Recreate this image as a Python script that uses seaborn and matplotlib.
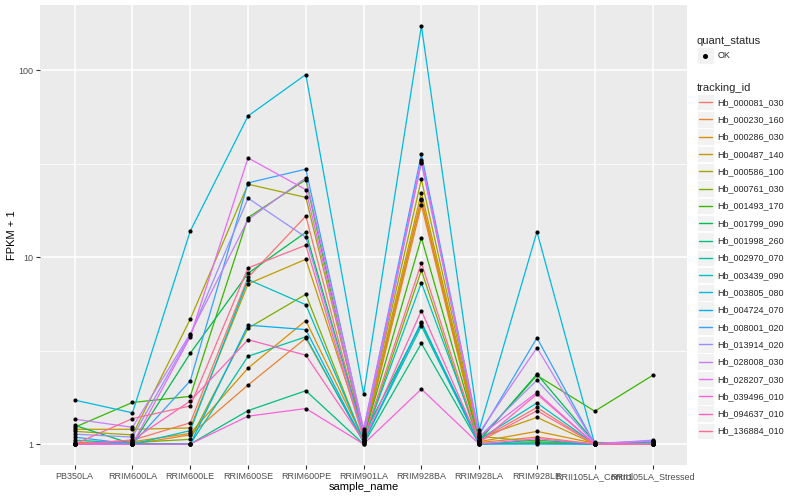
import matplotlib
matplotlib.use("Agg")
import matplotlib.pyplot as plt
import seaborn as sns
import numpy as np
import pandas as pd
from matplotlib.lines import Line2D
from matplotlib.patches import Rectangle
from matplotlib.legend_handler import HandlerBase

samples = ['PB350LA', 'RRIM600LA', 'RRIM600LE', 'RRIM600SE', 'RRIM600PE', 'RRIM901LA',
           'RRIM928BA', 'RRIM928LA', 'RRIM928LE', 'RRII105LA_Control', 'RRII105LA_Stressed']

tracking_ids = ['Hb_000081_030', 'Hb_000230_160', 'Hb_000286_030', 'Hb_000487_140', 'Hb_000586_100',
                'Hb_000761_030', 'Hb_001493_170', 'Hb_001799_090', 'Hb_001998_260', 'Hb_002970_070',
                'Hb_003439_090', 'Hb_003805_080', 'Hb_004724_070', 'Hb_008001_020', 'Hb_013914_020',
                'Hb_028008_030', 'Hb_028207_030', 'Hb_039496_010', 'Hb_094637_010', 'Hb_136884_010']

# FPKM + 1 per tracking id, in sample order
Hb_000081_030 = [1.00, 1.05, 1.30, 7.8, 16.6, 1.10, 20.6, 1.05, 1.57, 1.00, 1.01]
Hb_000230_160 = [1.00, 1.00, 1.12, 2.07, 3.69, 1.04, 19.0, 1.02, 1.09, 1.00, 1.00]
Hb_000286_030 = [1.02, 1.03, 1.14, 2.55, 4.58, 1.06, 20.2, 1.03, 1.17, 1.01, 1.00]
Hb_000487_140 = [1.20, 1.20, 1.22, 7.2, 9.75, 1.12, 22.2, 1.08, 1.39, 1.00, 1.02]
Hb_000586_100 = [1.17, 1.12, 4.66, 24.6, 20.9, 1.15, 26.1, 1.10, 1.03, 1.00, 1.00]
Hb_000761_030 = [1.00, 1.02, 1.06, 4.17, 6.33, 1.03, 8.5, 1.00, 1.02, 1.00, 1.00]
Hb_001493_170 = [1.23, 1.67, 1.80, 16.3, 26.0, 1.08, 12.7, 1.05, 2.33, 1.50, 2.33]
Hb_001799_090 = [1.26, 1.00, 3.06, 8.2, 13.6, 1.12, 4.42, 1.04, 2.37, 1.02, 1.01]
Hb_001998_260 = [1.00, 1.00, 1.00, 1.51, 1.93, 1.00, 3.46, 1.00, 1.05, 1.00, 1.00]
Hb_002970_070 = [1.05, 1.01, 1.00, 2.95, 3.75, 1.02, 4.28, 1.01, 1.01, 1.00, 1.00]
Hb_003439_090 = [1.00, 1.00, 1.18, 7.6, 5.57, 1.05, 7.3, 1.06, 1.66, 1.00, 1.02]
Hb_003805_080 = [1.72, 1.47, 13.8, 57.0, 95.0, 1.85, 173.0, 1.19, 13.7, 1.00, 1.00]
Hb_004724_070 = [1.00, 1.00, 1.00, 4.33, 4.10, 1.02, 4.51, 1.00, 1.00, 1.00, 1.00]
Hb_008001_020 = [1.09, 1.00, 2.18, 25.0, 29.6, 1.18, 35.6, 1.12, 3.70, 1.00, 1.04]
Hb_013914_020 = [1.13, 1.09, 3.82, 20.7, 12.8, 1.10, 32.1, 1.09, 2.20, 1.01, 1.04]
Hb_028008_030 = [1.36, 1.23, 3.89, 15.9, 26.6, 1.21, 32.5, 1.15, 3.28, 1.00, 1.05]
Hb_028207_030 = [1.00, 1.00, 3.75, 34.0, 23.0, 1.14, 33.3, 1.10, 1.89, 1.00, 1.00]
Hb_039496_010 = [1.00, 1.00, 1.00, 1.41, 1.55, 1.00, 1.97, 1.00, 1.07, 1.00, 1.00]
Hb_094637_010 = [1.00, 1.05, 1.70, 3.62, 2.99, 1.04, 5.18, 1.02, 1.85, 1.00, 1.00]
Hb_136884_010 = [1.00, 1.37, 1.60, 8.77, 11.6, 1.06, 9.33, 1.03, 1.51, 1.00, 1.00]

series = [Hb_000081_030, Hb_000230_160, Hb_000286_030, Hb_000487_140, Hb_000586_100,
          Hb_000761_030, Hb_001493_170, Hb_001799_090, Hb_001998_260, Hb_002970_070,
          Hb_003439_090, Hb_003805_080, Hb_004724_070, Hb_008001_020, Hb_013914_020,
          Hb_028008_030, Hb_028207_030, Hb_039496_010, Hb_094637_010, Hb_136884_010]

palette = ["#F8766D", "#EA8331", "#D89000", "#C09B00", "#A3A500", "#7CAE00", "#39B600",
           "#00BB4E", "#00BF7D", "#00C1A3", "#00BFC4", "#00BAE0", "#00B0F6", "#35A2FF",
           "#9590FF", "#C77CFF", "#E76BF3", "#FA62DB", "#FF62BC", "#FF6C91"]

rows = []
for tid, vals in zip(tracking_ids, series):
    for i, (s, v) in enumerate(zip(samples, vals)):
        rows.append({"tracking_id": tid, "sample_name": s, "xpos": i, "fpkm1": v, "quant_status": "OK"})
df = pd.DataFrame(rows)

sns.set_theme(style="darkgrid")
plt.rcParams['font.family'] = ['Liberation Sans', 'DejaVu Sans']

fig = plt.figure(figsize=(8, 5), dpi=100)
ax = fig.add_axes([0.05, 0.07, 0.809, 0.92])
ax.set_facecolor("#EBEBEB")

sns.lineplot(data=df, x="xpos", y="fpkm1", hue="tracking_id", hue_order=tracking_ids,
             palette=palette, linewidth=0.9, ax=ax, legend=False, sort=False,
             estimator=None, zorder=2)
sns.scatterplot(data=df, x="xpos", y="fpkm1", color="black", s=9, linewidth=0,
                marker="o", ax=ax, legend=False, zorder=3)

ax.set_yscale("log")
ymax = np.log10(max(max(s) for s in series))
ymin = 0.0
pad = (ymax - ymin) * 0.05
ax.set_ylim(10 ** (ymin - pad), 10 ** (ymax + pad))
ax.set_xlim(-0.6, len(samples) - 1 + 0.6)

ax.set_xticks(range(len(samples)))
ax.set_xticklabels(samples)
ax.set_yticks([1, 10, 100])
ax.set_yticklabels(["1", "10", "100"])
ax.yaxis.set_minor_locator(matplotlib.ticker.FixedLocator([10 ** 0.5, 10 ** 1.5]))
ax.yaxis.set_minor_formatter(matplotlib.ticker.NullFormatter())

ax.grid(which="major", color="white", linewidth=1.1)
ax.grid(which="minor", axis="y", color="white", linewidth=0.55)
ax.grid(which="minor", axis="x", visible=False)
for sp in ax.spines.values():
    sp.set_visible(False)
ax.tick_params(axis="both", which="major", length=3, width=0.8, color="#333333",
               labelsize=6.5, labelcolor="#4D4D4D", pad=2, bottom=True, left=True)
ax.tick_params(axis="y", which="minor", length=0)
ax.set_xlabel("sample_name", fontsize=8, color="black", labelpad=1)
ax.set_ylabel("FPKM + 1", fontsize=8, color="black")
ax.yaxis.set_label_coords(-0.035, 0.5)


class KeyHandler(HandlerBase):
    def create_artists(self, legend, orig_handle, xdescent, ydescent, width, height, fontsize, trans):
        r = Rectangle((-xdescent, -ydescent), width, height, facecolor="#F2F2F2",
                      edgecolor="white", linewidth=0.6, transform=trans)
        cy = -ydescent + height / 2
        if orig_handle.get_linestyle() in ("None", "none", ""):
            l = Line2D([-xdescent + width / 2], [cy], marker="o",
                       markersize=2.6, color="black", linestyle="None", transform=trans)
        else:
            l = Line2D([-xdescent + 1.5, -xdescent + width - 1.5],
                       [cy] * 2, color=orig_handle.get_color(),
                       linewidth=1.0, transform=trans)
        return [r, l]


common = dict(loc="upper left", frameon=False, fontsize=6.5, title_fontsize=8,
              handlelength=1.9, handleheight=2.45, handletextpad=0.4,
              labelspacing=0.08, handler_map={Line2D: KeyHandler()}, borderpad=0.0,
              borderaxespad=0.0)

status_handles = [Line2D([], [], marker="o", color="black", linestyle="None")]
leg1 = fig.legend(status_handles, ["OK"], title="quant_status",
                  bbox_to_anchor=(0.871, 0.927), **common)
leg1._legend_box.align = "left"

track_handles = [Line2D([], [], color=c, linestyle="-") for c in palette]
leg2 = fig.legend(track_handles, tracking_ids, title="tracking_id",
                  bbox_to_anchor=(0.871, 0.834), **common)
leg2._legend_box.align = "left"

fig.savefig("out.png", dpi=100, facecolor="white")
